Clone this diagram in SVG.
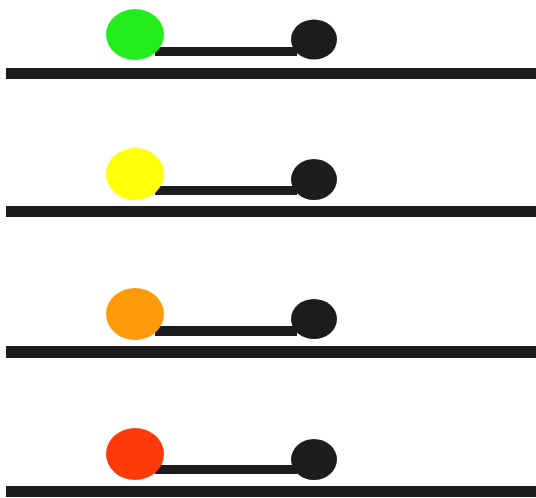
<svg xmlns="http://www.w3.org/2000/svg" width="536" height="498" viewBox="0 0 536 498">
<style>
.base{fill:#1c1c1c}
.bar{fill:#1c1c1c}
.dot{fill:#1c1c1c}
</style>
<rect width="536" height="498" fill="#ffffff"/>
<g id="baselines">
<rect class="base" x="6" y="68" width="530" height="11"/>
<rect class="base" x="6" y="206" width="530" height="11"/>
<rect class="base" x="6" y="346" width="530" height="12"/>
<rect class="base" x="6" y="486" width="530" height="11"/>
</g>
<g id="connectors">
<rect class="bar" x="155" y="47" width="142" height="9"/>
<rect class="bar" x="155" y="186" width="142" height="9"/>
<rect class="bar" x="155" y="326" width="142" height="10"/>
<rect class="bar" x="155" y="465" width="142" height="9"/>
</g>
<g id="row1-green"><ellipse cx="135" cy="34.5" rx="29" ry="25.5" fill="#22ee1e"/></g>
<g id="row1-black"><ellipse class="dot" cx="314" cy="39.5" rx="23" ry="20"/></g>
<g id="row2-yellow"><ellipse cx="135" cy="174" rx="29" ry="26" fill="#ffff0a"/></g>
<g id="row2-black"><ellipse class="dot" cx="314" cy="179.5" rx="23" ry="20.5"/></g>
<g id="row3-orange"><ellipse cx="135" cy="314" rx="29" ry="26" fill="#ff9a0a"/></g>
<g id="row3-black"><ellipse class="dot" cx="314" cy="319" rx="23" ry="20"/></g>
<g id="row4-red"><ellipse cx="135" cy="454" rx="29" ry="26" fill="#ff3a0a"/></g>
<g id="row4-black"><ellipse class="dot" cx="314" cy="459.5" rx="23" ry="20.5"/></g>
</svg>
